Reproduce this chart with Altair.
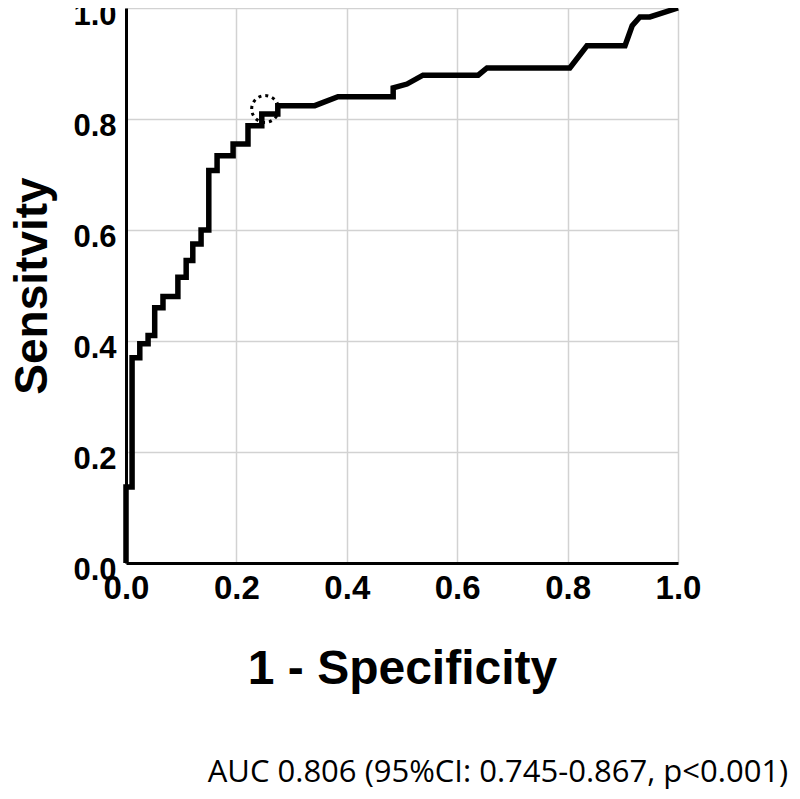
import altair as alt
import pandas as pd

# ROC curve vertices (1 - specificity, sensitivity)
fpr = [0.0, 0.0, 0.011, 0.011, 0.025, 0.025, 0.040, 0.040, 0.052, 0.052,
       0.067, 0.067, 0.094, 0.094, 0.109, 0.109, 0.121, 0.121, 0.136, 0.136,
       0.150, 0.150, 0.165, 0.165, 0.194, 0.194, 0.221, 0.221, 0.246, 0.246,
       0.275, 0.275, 0.342, 0.384, 0.484, 0.484, 0.509, 0.538, 0.638, 0.654,
       0.804, 0.835, 0.904, 0.917, 0.931, 0.949, 1.0]
tpr = [0.0, 0.137, 0.137, 0.370, 0.370, 0.395, 0.395, 0.410, 0.410, 0.460,
       0.460, 0.480, 0.480, 0.515, 0.515, 0.545, 0.545, 0.575, 0.575, 0.600,
       0.600, 0.707, 0.707, 0.734, 0.734, 0.755, 0.755, 0.788, 0.788, 0.809,
       0.809, 0.824, 0.824, 0.840, 0.840, 0.856, 0.863, 0.879, 0.879, 0.892,
       0.892, 0.932, 0.932, 0.968, 0.984, 0.984, 1.0]

cut_x = [0.252]
cut_y = [0.818]

ticks = [0.0, 0.2, 0.4, 0.6, 0.8, 1.0]
caption = "AUC 0.806 (95%CI: 0.745-0.867, p<0.001)"

roc = pd.DataFrame({"fpr": fpr, "tpr": tpr, "order": list(range(len(fpr)))})
cut = pd.DataFrame({"fpr": cut_x, "tpr": cut_y})
cap = pd.DataFrame({"t": [caption]})

FONT = "Liberation Sans"

xscale = alt.Scale(domain=[0, 1], nice=False)
yscale = alt.Scale(domain=[0, 1], nice=False)

xaxis = alt.Axis(values=ticks, format=".1f", ticks=False, grid=True,
                 gridColor="#d2d2d2", gridWidth=1.5,
                 domainColor="black", domainWidth=3,
                 labelFont=FONT, labelFontSize=33, labelFontWeight="bold",
                 labelColor="black", labelPadding=9, labelFlush=False,
                 title="1 - Specificity", titleFont=FONT, titleFontSize=48,
                 titleFontWeight="bold", titleColor="black",
                 titleBaseline="alphabetic", titleY=120)
yaxis = alt.Axis(values=ticks, format=".1f", ticks=False, grid=True,
                 gridColor="#d2d2d2", gridWidth=1.5,
                 domainColor="black", domainWidth=3,
                 labelFont=FONT, labelFontSize=31, labelFontWeight="bold",
                 labelColor="black", labelPadding=10, labelFlush=False,
                 labelOffset=7,
                 title="Sensitvity", titleFont=FONT, titleFontSize=46,
                 titleFontWeight="bold", titleColor="black",
                 titleBaseline="alphabetic", titleAngle=-90, titleX=-80)

line = alt.Chart(roc).mark_line(color="black", strokeWidth=5.5,
                                strokeJoin="miter", clip=False).encode(
    x=alt.X("fpr:Q", scale=xscale, axis=xaxis),
    y=alt.Y("tpr:Q", scale=yscale, axis=yaxis),
    order="order:Q",
)

circle = alt.Chart(cut).mark_point(shape="circle", size=720, filled=False,
                                   color="black", strokeWidth=3,
                                   strokeDash=[3, 4], opacity=1).encode(
    x=alt.X("fpr:Q", scale=xscale),
    y=alt.Y("tpr:Q", scale=yscale),
)

text = alt.Chart(cap).mark_text(font="Open Sans", fontSize=31, color="black",
                                align="center", baseline="middle").encode(
    text="t:N",
    x=alt.value(372),
    y=alt.value(765),
)

chart = alt.layer(line, circle, text).properties(
    width=552, height=555,
    autosize=alt.AutoSizeParams(type="none"),
    padding={"left": 118, "top": 0, "right": 114, "bottom": 227},
).configure_view(stroke=None).configure(background="white")

chart.save("out.html", embed_options={"renderer": "svg", "actions": False})
